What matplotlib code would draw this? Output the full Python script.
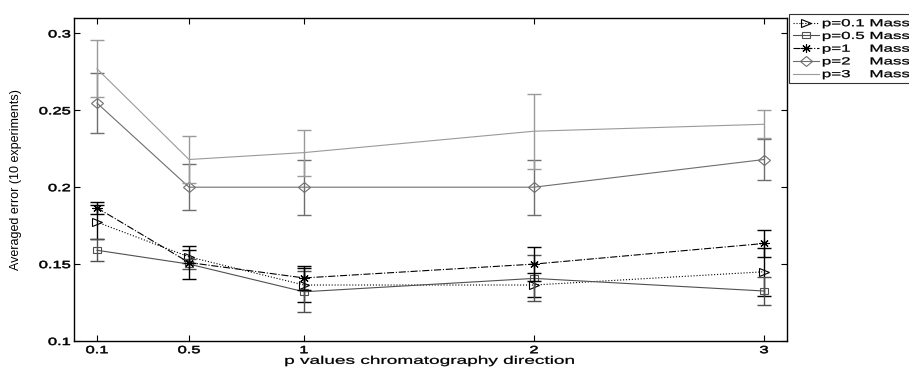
import numpy as np
import matplotlib
matplotlib.use("Agg")
import matplotlib.pyplot as plt
from matplotlib.markers import MarkerStyle
from matplotlib.patheffects import AbstractPathEffect
from matplotlib.transforms import Affine2D

plt.rcParams['font.family'] = ['Liberation Sans', 'DejaVu Sans']

# p values along the chromatography direction
p_values = [0.1, 0.5, 1, 2, 3]

# averaged error over 10 experiments, one list per mass p
p01_mean = [0.1773, 0.1547, 0.1364, 0.1364, 0.1450]
p01_err = [0.0110, 0.0043, 0.0110, 0.0075, 0.0155]
p05_mean = [0.1590, 0.1500, 0.1320, 0.1407, 0.1325]
p05_err = [0.0070, 0.0030, 0.0134, 0.0150, 0.0090]
p1_mean = [0.1866, 0.1510, 0.1410, 0.1500, 0.1634]
p1_err = [0.0040, 0.0110, 0.0080, 0.0112, 0.0086]
p2_mean = [0.2547, 0.2000, 0.2000, 0.2000, 0.2180]
p2_err = [0.0195, 0.0150, 0.0180, 0.0180, 0.0135]
p3_mean = [0.2770, 0.2180, 0.2225, 0.2364, 0.2409]
p3_err = [0.0185, 0.0153, 0.0150, 0.0243, 0.0090]

labels = ['p=0.1 Mass', 'p=0.5 Mass', 'p=1    Mass', 'p=2    Mass', 'p=3    Mass']


class HStretch(AbstractPathEffect):
    """Widen text horizontally about its left, centre or right edge."""

    def __init__(self, sx, anchor='center', stroke=0.0):
        super().__init__()
        self.sx, self.anchor, self.stroke = sx, anchor, stroke

    def draw_path(self, renderer, gc, tpath, affine, rgbFace=None):
        ext = tpath.get_extents(affine)
        x0 = {'left': ext.x0, 'right': ext.x1,
              'center': 0.5 * (ext.x0 + ext.x1)}[self.anchor]
        tr = affine + Affine2D().translate(-x0, 0).scale(self.sx, 1).translate(x0, 0)
        gc0 = renderer.new_gc()
        gc0.copy_properties(gc)
        gc0.set_linewidth(self.stroke)
        if rgbFace is not None:
            gc0.set_foreground(rgbFace)
        renderer.draw_path(gc0, tpath, tr, rgbFace)
        gc0.restore()


def wide(marker, sx=1.0):
    return MarkerStyle(marker, transform=Affine2D().scale(sx, 1.0))


fig = plt.figure(figsize=(9.09, 3.69), dpi=100)
ax = fig.add_axes([0.0814, 0.0759, 0.7844, 0.8753])

series = [
    (p01_mean, p01_err, 'k', ':', wide('>', 1.25), 5.5),
    (p05_mean, p05_err, '#505050', '-', wide('s', 1.2), 4.5),
    (p1_mean, p1_err, 'k', '-.', wide((8, 2, 0), 1.2), 6),
    (p2_mean, p2_err, '#6e6e6e', '-', wide('D', 1.15), 5),
    (p3_mean, p3_err, '#9a9a9a', '-', None, 5),
]
for (m, e, c, ls, mk, ms), lab in zip(series, labels):
    ax.errorbar(p_values, m, yerr=e, fmt='none', ecolor=c, elinewidth=1.0,
                capsize=4.7, capthick=1.0)
    ax.plot(p_values, m, color=c, ls=ls, lw=0.8, marker=mk, markersize=ms,
            markerfacecolor='none', markeredgecolor=c, markeredgewidth=0.8,
            label=lab)

ax.set_xlim(0, 3.1)
ax.set_ylim(0.1, 0.31)
ax.set_xticks(p_values)
ax.set_xticklabels(['0.1', '0.5', '1', '2', '3'])
ax.set_yticks([0.1, 0.15, 0.2, 0.25, 0.3])
ax.set_yticklabels(['0.1', '0.15', '0.2', '0.25', '0.3'])
ax.tick_params(direction='in', top=True, right=True, length=4, width=0.8,
               labelsize=7.5)
ax.tick_params(axis='x', pad=3.0)
ax.tick_params(axis='y', pad=2.5)
for s in ax.spines.values():
    s.set_linewidth(1.0)

ax.set_xlabel('p values chromatography direction', fontsize=8, labelpad=0.5)
ax.set_ylabel('Averaged error (10 experiments)', fontsize=9)
ax.yaxis.set_label_coords(-0.073, 0.5)

leg = ax.legend(loc='upper left', bbox_to_anchor=(1.0025, 0.0, 0.2, 1.012),
                mode='expand', fontsize=7.3, frameon=True, fancybox=False,
                handlelength=2.6, handletextpad=0.3, borderpad=0.4,
                labelspacing=0.27, borderaxespad=0)
leg.get_frame().set_edgecolor('k')
leg.get_frame().set_linewidth(0.8)

# stretch the texts to the widths of the exported figure
fig.canvas.draw()
rend = fig.canvas.get_renderer()
sx_tick = 32.0 / ax.get_yticklabels()[3].get_window_extent(rend).width
sx_xlab = 294.0 / ax.xaxis.label.get_window_extent(rend).width
sx_leg = 88.0 / leg.get_texts()[0].get_window_extent(rend).width
for t in ax.get_xticklabels():
    t.set_path_effects([HStretch(sx_tick, 'center', 0.4)])
for t in ax.get_yticklabels():
    t.set_path_effects([HStretch(sx_tick, 'right', 0.4)])
ax.xaxis.label.set_path_effects([HStretch(sx_xlab, 'center', 0.2)])
for t in leg.get_texts():
    t.set_path_effects([HStretch(sx_leg, 'left', 0.2)])

fig.savefig('out.png', dpi=100)
